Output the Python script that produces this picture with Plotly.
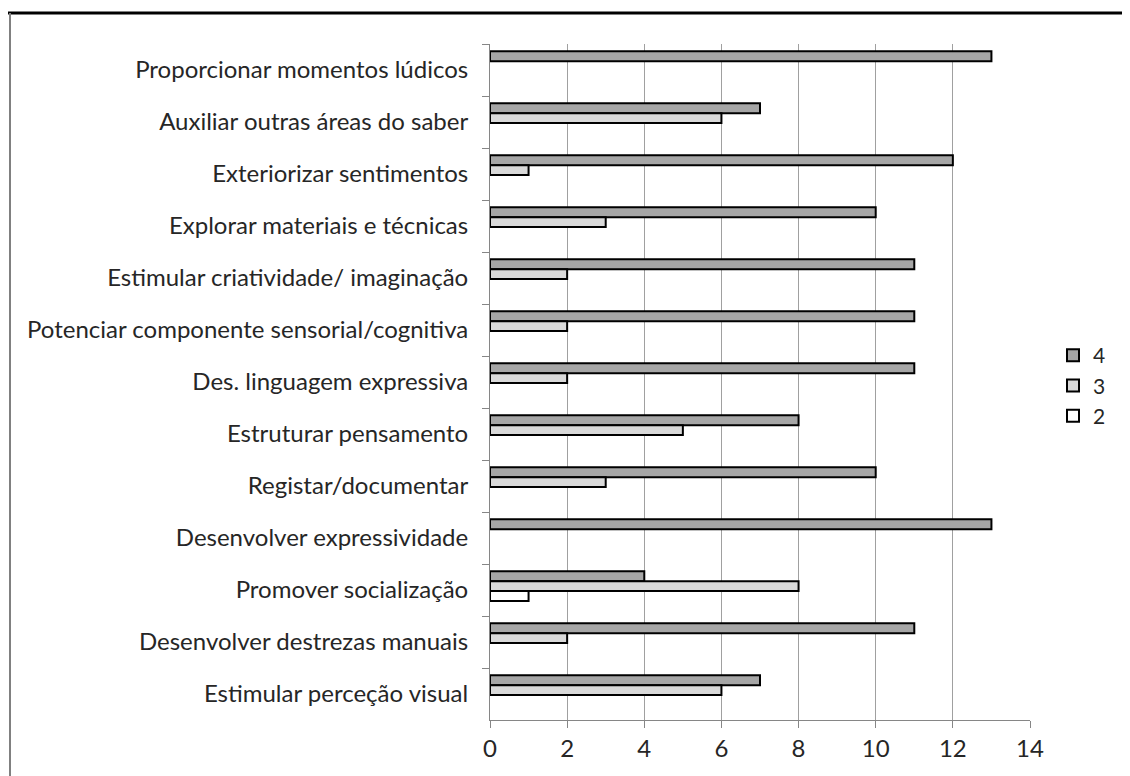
import plotly.graph_objects as go

categories = [
    "Proporcionar momentos lúdicos",
    "Auxiliar outras áreas do saber",
    "Exteriorizar sentimentos",
    "Explorar materiais e técnicas",
    "Estimular criatividade/ imaginação",
    "Potenciar componente sensorial/cognitiva",
    "Des. linguagem expressiva",
    "Estruturar pensamento",
    "Registar/documentar",
    "Desenvolver expressividade",
    "Promover socialização",
    "Desenvolver destrezas manuais",
    "Estimular perceção visual",
]
series_names = ["4", "3", "2"]
values_4 = [13, 7, 12, 10, 11, 11, 11, 8, 10, 13, 4, 11, 7]
values_3 = [0, 6, 1, 3, 2, 2, 2, 5, 3, 0, 8, 2, 6]
values_2 = [0, 0, 0, 0, 0, 0, 0, 0, 0, 0, 1, 0, 0]
x_ticks = [0, 2, 4, 6, 8, 10, 12, 14]

colors = ["#a6a6a6", "#d9d9d9", "#ffffff"]
offsets = [-0.36, -0.17, 0.02]
bar_width = 0.19
font_family = "Lato, 'Open Sans', sans-serif"
FS = 24

fig = go.Figure()
for name, vals, col, off in zip(series_names, [values_4, values_3, values_2],
                                colors, offsets):
    fig.add_trace(go.Bar(
        y=categories, x=[v if v else None for v in vals], name=name,
        orientation="h", offset=off, width=bar_width,
        marker=dict(color=col, line=dict(color="#000000", width=2)),
    ))

# page body margin offsets the figure by 8px
OFF = 8
W, H = 1130, 776
l, r, t, b = 490 - OFF, 108, 44 - OFF, 64
pw, ph = W - l - r, H - t - b

def px_x(sx):
    return (sx - OFF - l) / pw

def px_y(sy):
    return 1 - (sy - OFF - t) / ph

fig.update_layout(
    width=W, height=H,
    margin=dict(l=l, r=r, t=t, b=b),
    paper_bgcolor="white", plot_bgcolor="white",
    barmode="group",
    font=dict(family=font_family, size=FS, color="#262626"),
    showlegend=True,
    legend=dict(x=px_x(1053), y=px_y(335), xanchor="left", yanchor="top",
                font=dict(size=21, color="#262626"), tracegroupgap=0,
                itemwidth=30, bgcolor="rgba(0,0,0,0)"),
    xaxis=dict(range=[0, 14], tickvals=x_ticks, showgrid=True,
               gridcolor="#a0a0a0", gridwidth=1, zeroline=False,
               showline=True, linecolor="#868686", linewidth=1,
               ticks="outside", ticklen=7, tickcolor="#868686",
               tickfont=dict(size=FS, color="#262626")),
    yaxis=dict(autorange="reversed", showgrid=False, showline=True,
               linecolor="#868686", linewidth=1, ticks="outside",
               tickson="boundaries", ticklen=7, tickcolor="#868686",
               ticklabelstandoff=16,
               tickfont=dict(size=FS, color="#262626")),
    shapes=[
        dict(type="line", xref="paper", yref="paper",
             x0=px_x(8), x1=px_x(1140), y0=px_y(13), y1=px_y(13),
             line=dict(color="#000000", width=3)),
        dict(type="line", xref="paper", yref="paper",
             x0=px_x(10), x1=px_x(10), y0=px_y(13), y1=px_y(790),
             line=dict(color="#808080", width=2)),
    ],
)

fig.write_html("out.html")
